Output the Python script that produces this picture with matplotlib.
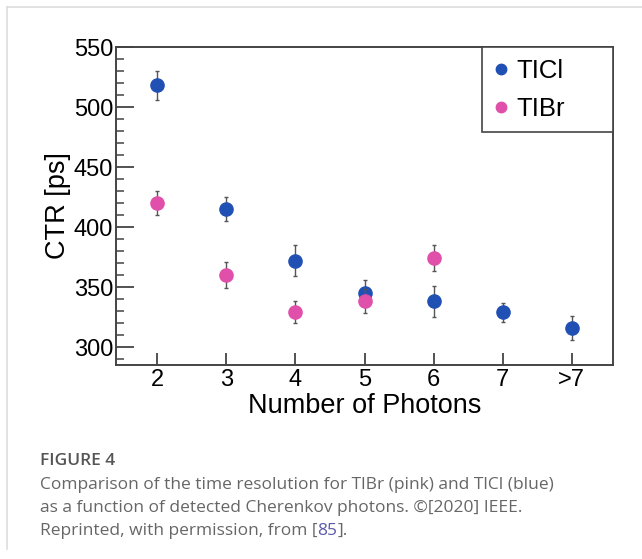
import matplotlib
matplotlib.use("Agg")
import matplotlib.pyplot as plt
from matplotlib.lines import Line2D
from matplotlib.ticker import MultipleLocator

# ---- data ----
categories = ["2", "3", "4", "5", "6", "7", ">7"]
tlcl_x = [2, 3, 4, 5, 6, 7, 8]
tlcl_y = [518, 415, 372, 345, 338, 329, 316]
tlcl_err = [12, 10, 13, 11, 13, 8, 10]
tlbr_x = [2, 3, 4, 5, 6]
tlbr_y = [420, 360, 329, 338, 374]
tlbr_err = [10, 11, 9, 10, 11]
series_names = ["TlCl", "TlBr"]
legend_labels = ["TICl", "TIBr"]

BLUE = "#2150b4"
PINK = "#e04fa9"
AX_COL = "#444444"
FONT = "Liberation Sans"

fig = plt.figure(figsize=(6.42, 5.59), dpi=100)
fig.patch.set_facecolor("white")

ax = fig.add_axes([116 / 642, 1 - 365 / 559, 497 / 642, 318 / 559])

ax.errorbar(tlcl_x, tlcl_y, yerr=tlcl_err, fmt="o", color=BLUE, ms=9.5,
            ecolor="#555555", elinewidth=1.0, capsize=1.5, capthick=1.0, zorder=3)
ax.errorbar(tlbr_x, tlbr_y, yerr=tlbr_err, fmt="o", color=PINK, ms=9.5,
            ecolor="#555555", elinewidth=1.0, capsize=1.5, capthick=1.0, zorder=4)

ax.set_xlim(1.4, 8.6)
ax.set_ylim(285, 550)
ax.set_xticks(tlcl_x)
ax.set_xticklabels(categories)
ax.yaxis.set_major_locator(MultipleLocator(50))
ax.yaxis.set_minor_locator(MultipleLocator(10))

for s in ax.spines.values():
    s.set_color(AX_COL)
    s.set_linewidth(1.4)

ax.tick_params(axis="y", which="major", direction="in", length=13, width=1.3,
               color=AX_COL, labelsize=17, pad=2)
ax.tick_params(axis="y", which="minor", direction="in", length=6, width=1.1,
               color=AX_COL)
ax.tick_params(axis="x", which="major", direction="in", length=9, width=1.3,
               color=AX_COL, labelsize=17, pad=3)
for lab in ax.get_xticklabels() + ax.get_yticklabels():
    lab.set_fontfamily(FONT)

ax.set_xlabel("Number of Photons", fontsize=19.5, family=FONT, labelpad=1)
ax.set_ylabel("CTR [ps]", fontsize=19.5, family=FONT, labelpad=2)

handles = [Line2D([], [], marker="o", ls="none", color=BLUE, ms=7.5),
           Line2D([], [], marker="o", ls="none", color=PINK, ms=7.5)]
leg = ax.legend(handles, legend_labels, loc="upper left",
                bbox_to_anchor=(0.736, 1.0, 0.264, 0.0), mode="expand",
                borderaxespad=0, frameon=True, fancybox=False,
                prop={"family": FONT, "size": 18.5}, handlelength=0.6,
                handletextpad=0.3, labelspacing=0.55, borderpad=0.45,
                framealpha=1)
leg.get_frame().set_edgecolor(AX_COL)
leg.get_frame().set_linewidth(1.2)

# outer frame lines (top and left)
fig.add_artist(Line2D([7 / 642, 1], [1 - 7 / 559, 1 - 7 / 559], color="#dddddd", lw=1.2))
fig.add_artist(Line2D([7 / 642, 7 / 642], [1 - 7 / 559, 1 - 549 / 559], color="#dddddd", lw=1.2))

# caption
CAP = "Open Sans"
CS = 12.5
fig.text(40 / 642, 1 - 461 / 559, "FIGURE 4", fontsize=CS, family=CAP,
         weight="semibold", color="#555555", va="center")
fig.text(40 / 642, 1 - 485 / 559,
         "Comparison of the time resolution for TlBr (pink) and TlCl (blue)",
         fontsize=CS, family=CAP, color="#666666", va="center")
fig.text(40 / 642, 1 - 508 / 559,
         "as a function of detected Cherenkov photons. \u00a9[2020] IEEE.",
         fontsize=CS, family=CAP, color="#666666", va="center")
t1 = fig.text(40 / 642, 1 - 531 / 559, "Reprinted, with permission, from [",
              fontsize=CS, family=CAP, color="#666666", va="center")
fig.canvas.draw()
r = fig.canvas.get_renderer()
bb = t1.get_window_extent(r)
x2 = bb.x1 / fig.bbox.width
t2 = fig.text(x2, 1 - 531 / 559, "85", fontsize=CS, family=CAP,
              color="#5c58a8", va="center")
bb2 = t2.get_window_extent(r)
fig.text(bb2.x1 / fig.bbox.width, 1 - 531 / 559, "].", fontsize=CS,
         family=CAP, color="#666666", va="center")

fig.savefig("out.png", dpi=100, facecolor="white")
